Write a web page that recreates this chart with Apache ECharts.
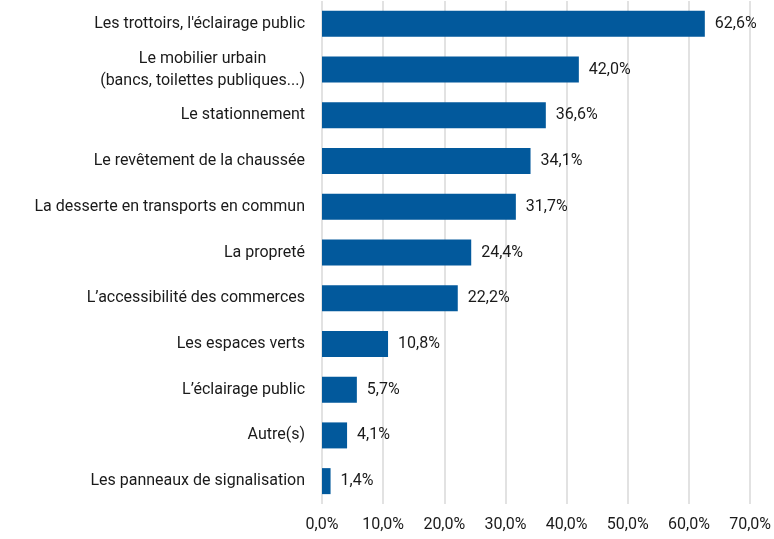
<!DOCTYPE html>
<html>
<head>
<meta charset="utf-8">
<script src="https://cdn.jsdelivr.net/npm/echarts@6/dist/echarts.min.js"></script>
<style>
  html, body { margin: 0; padding: 0; background: #fff; }
  #main { width: 774px; height: 539px; }
</style>
</head>
<body>
<div id="main"></div>
<script>
// categories listed from top to bottom
const categories = [
  "Les trottoirs, l'éclairage public",
  "Le mobilier urbain\n(bancs, toilettes publiques...)",
  "Le stationnement",
  "Le revêtement de la chaussée",
  "La desserte en transports en commun",
  "La propreté",
  "L’accessibilité des commerces",
  "Les espaces verts",
  "L’éclairage public",
  "Autre(s)",
  "Les panneaux de signalisation"
];
const values = [62.6, 42.0, 36.6, 34.1, 31.7, 24.4, 22.2, 10.8, 5.7, 4.1, 1.4];
const axisMax = 70;
const axisStep = 10;

const fmt = v => v.toFixed(1).replace('.', ',') + '%';

const myChart = echarts.init(document.getElementById('main'));
const option = {
  animation: false,
  textStyle: { fontFamily: 'Roboto' },
  grid: {
    top: 1,
    left: 322,
    right: 23,
    bottom: 35,
    containLabel: false
  },
  xAxis: {
    type: 'value',
    min: 0,
    max: axisMax,
    interval: axisStep,
    axisLine: { show: false },
    axisTick: { show: false },
    axisLabel: {
      formatter: v => fmt(v),
      color: '#1a1a1a',
      fontSize: 16,
      margin: 13
    },
    splitLine: { lineStyle: { color: '#d9d9d9', width: 1.5 } }
  },
  yAxis: {
    type: 'category',
    inverse: true,
    data: categories,
    axisLine: { show: false },
    axisTick: { show: false },
    axisLabel: {
      color: '#1a1a1a',
      fontSize: 16,
      margin: 17,
      lineHeight: 22,
      align: 'right',
      // multi-line labels are centred line by line
      formatter: v => v.indexOf('\n') < 0 ? v : v.split('\n').map(s => '{c|' + s + '}').join('\n'),
      rich: {
        c: { align: 'center', fontSize: 16, lineHeight: 22, color: '#1a1a1a', fontFamily: 'Roboto' }
      }
    }
  },
  series: [{
    type: 'bar',
    data: values,
    barWidth: 26,
    itemStyle: { color: '#02599c' },
    label: {
      show: true,
      position: 'right',
      distance: 10,
      formatter: p => fmt(p.value),
      color: '#1a1a1a',
      fontSize: 16
    }
  }]
};
myChart.setOption(option);
</script>
</body>
</html>
